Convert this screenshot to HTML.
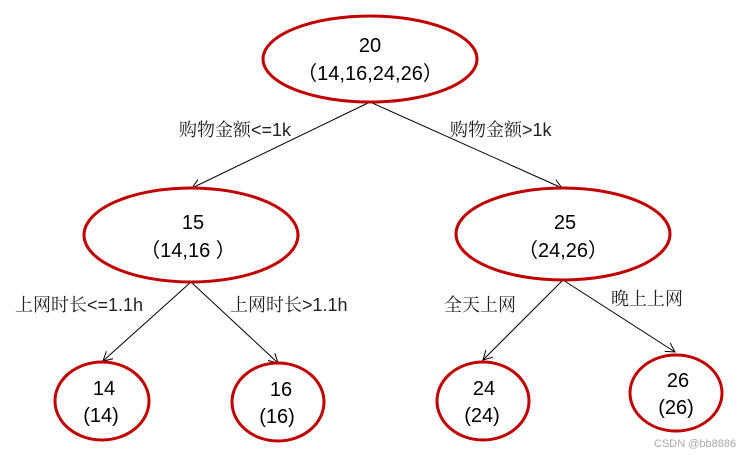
<!DOCTYPE html>
<html><head><meta charset="utf-8"><style>
html,body{margin:0;padding:0;background:#fff;}
svg{display:block;}
.n{font-family:"Liberation Sans","Noto Sans CJK SC",sans-serif;font-size:20px;fill:#000;text-anchor:middle;}
.l{font-family:"Liberation Sans","Noto Serif CJK SC",serif;font-size:18px;fill:#222;}
</style></head><body>
<svg width="753" height="457" viewBox="0 0 753 457" xmlns="http://www.w3.org/2000/svg">
<defs><marker id="a" markerWidth="12" markerHeight="12" refX="10" refY="6" orient="auto" markerUnits="userSpaceOnUse"><path d="M1,1 L10,6 L1,11" fill="none" stroke="#000" stroke-width="1"/></marker></defs>
<g stroke="#000" stroke-width="1" marker-end="url(#a)">
<line x1="370" y1="102" x2="192" y2="188"/>
<line x1="370" y1="102" x2="562" y2="188"/>
<line x1="191" y1="282" x2="103" y2="361"/>
<line x1="191" y1="282" x2="278" y2="363"/>
<line x1="563" y1="280" x2="483" y2="360"/>
<line x1="563" y1="280" x2="675" y2="352"/>
</g>
<g fill="none" stroke="#c00000" stroke-width="3">
<ellipse cx="370" cy="59" rx="107" ry="43"/>
<ellipse cx="191" cy="235" rx="107" ry="47"/>
<ellipse cx="563" cy="234" rx="107" ry="46"/>
<ellipse cx="102" cy="401" rx="47" ry="39"/>
<ellipse cx="278" cy="402" rx="46" ry="39"/>
<ellipse cx="483" cy="401" rx="46" ry="39"/>
<ellipse cx="676" cy="393" rx="46" ry="38"/>
</g>
<text class="n" x="370" y="52">20</text>
<text class="n" x="370" y="80">（14,16,24,26）</text>
<text class="n" x="193" y="229">15</text>
<text class="n" x="188" y="257">（14,16 ）</text>
<text class="n" x="565" y="229">25</text>
<text class="n" x="563" y="257">（24,26）</text>
<text class="n" x="104" y="395">14</text>
<text class="n" x="101" y="422">(14)</text>
<text class="n" x="281" y="396">16</text>
<text class="n" x="277" y="423">(16)</text>
<text class="n" x="484" y="395">24</text>
<text class="n" x="482" y="422">(24)</text>
<text class="n" x="678" y="387">26</text>
<text class="n" x="676" y="414">(26)</text>
<text class="l" x="179" y="136">购物金额&lt;=1k</text>
<text class="l" x="450" y="136">购物金额&gt;1k</text>
<text class="l" x="15" y="311">上网时长&lt;=1.1h</text>
<text class="l" x="230" y="311">上网时长&gt;1.1h</text>
<text class="l" x="444" y="311">全天上网</text>
<text class="l" x="611" y="305">晚上上网</text>
<text x="654" y="447" font-family="Liberation Sans,sans-serif" font-size="11" fill="#aaa">CSDN @bb8886</text>
</svg>
</body></html>
